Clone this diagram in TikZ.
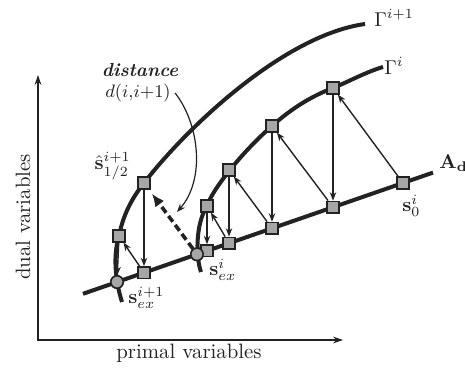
\documentclass[tikz,border=0pt]{standalone}
\usepackage{amsmath}
\usetikzlibrary{arrows.meta}
\definecolor{ink}{HTML}{222222}
\definecolor{boxfill}{HTML}{A6A6A6}
\begin{document}
\begin{tikzpicture}[x=0.5pt,y=-0.5pt,font=\fontsize{10.4}{12}\selectfont,
  sq/.style={draw=ink,fill=boxfill,line width=0.75pt,minimum size=5.8pt,inner sep=0pt},
  ci/.style={circle,draw=ink,fill=boxfill,line width=0.75pt,minimum size=6.2pt,inner sep=0pt},
  thickcurve/.style={line width=2pt,ink},
  proj/.style={-{Stealth[length=4.2pt,width=3.2pt]},line width=0.7pt,ink},
  axisline/.style={{Stealth[length=5pt,width=3.4pt]}-{Stealth[length=5pt,width=3.4pt]},line width=1pt,ink},
  dashedarrow/.style={-{Latex[length=6.5pt,width=5.5pt]},line width=1.8pt,ink,dash pattern=on 3.6pt off 2pt,shorten >=2.5pt},
  lbl/.style={inner sep=0pt,text=ink}]
\useasboundingbox (0,0) rectangle (465,368);
% axes
\coordinate (ytip) at (38,75);
\coordinate (xtip) at (343,340);
\draw[axisline] (ytip) |- (xtip);
\node[lbl,rotate=90] (ylab) at (23,217) {dual variables};
\node[lbl] (xlab) at (189,353) {primal variables};
% line A_d
\coordinate (L1) at (83,293.8);
\coordinate (L2) at (433,172.6);
\draw[thickcurve] (L1) -- (L2);
% curve Gamma^i
\draw[thickcurve] (201,272) .. controls (196,258) and (195,225) .. (207,206)
  .. controls (212,190) and (242,152) .. (272,126)
  .. controls (292,108) and (312,96) .. (333,88)
  .. controls (350,81) and (366,72) .. (383,67);
% curve Gamma^{i+1}
\draw[thickcurve] (122,302) .. controls (115,280) and (113,255) .. (119,236)
  .. controls (123,215) and (132,198) .. (144,183)
  .. controls (188,126) and (285,35) .. (365,24);
% nodes on A_d
\node[sq] (s0) at (403,183.0) {};
\node[sq] (a1) at (333,207.2) {};
\node[sq] (a2) at (272,228.3) {};
\node[sq] (a3) at (229,243.2) {};
\node[sq] (a4) at (207,250.8) {};
\node[sq] (b1) at (144,272.7) {};
% nodes on Gamma^i
\node[sq] (g1) at (333,88) {};
\node[sq] (g2) at (272,126) {};
\node[sq] (g3) at (229,170) {};
\node[sq] (g4) at (207,206) {};
% nodes on Gamma^{i+1}
\node[sq] (h1) at (144,183) {};
\node[sq] (h2) at (119,236) {};
\node[ci] (exi) at (197,254.3) {};
\node[ci] (exj) at (117,282) {};
% projections
\draw[proj] (s0) -- (g1);
\draw[proj] (g1) -- (a1);
\draw[proj] (a1) -- (g2);
\draw[proj] (g2) -- (a2);
\draw[proj] (a2) -- (g3);
\draw[proj] (g3) -- (a3);
\draw[proj] (a3) -- (g4);
\draw[proj] (g4) -- (a4);
\draw[proj] (h1) -- (b1);
\draw[proj] (b1) -- (h2);
\draw[proj] (h2) -- (exj);
\draw[dashedarrow] (exi) -- (h1);
% redraw nodes on top
\foreach \n in {s0,a1,a2,a3,a4,b1,g1,g2,g3,g4,h1,h2}{\node[sq] at (\n) {};}
\node[ci] at (exi) {};
\node[ci] at (exj) {};
% labels
\node[lbl,anchor=east] (lhat) at (131,166) {$\hat{\mathbf{s}}^{i+1}_{1/2}$};
\node[lbl,anchor=west] (lexj) at (128,298) {$\mathbf{s}^{i+1}_{ex}$};
\node[lbl,anchor=west] (lexi) at (209,270) {$\mathbf{s}^{i}_{ex}$};
\node[lbl,anchor=west] (ls0) at (402,206) {$\mathbf{s}^{i}_{0}$};
\node[lbl,anchor=west] (lad) at (439,163) {$\mathbf{A_d}$};
\node[lbl,anchor=west] (lg1) at (374,18) {$\Gamma^{i+1}$};
\node[lbl,anchor=west] (lg0) at (384,66) {$\Gamma^{i}$};
\node[lbl,font=\fontsize{9.4}{11}\selectfont] (ldist) at (140,70) {\textbf{\textit{distance}}};
\node[lbl,font=\fontsize{9.2}{11}\selectfont] (dlab) at (138,93) {$d(i{,}i{+}1)$};
\coordinate (dtip) at (177,212);
\draw[proj,line width=0.6pt] ([xshift=2pt]dlab.east) .. controls (200,125) and (205,180) .. (dtip);
\end{tikzpicture}
\end{document}
